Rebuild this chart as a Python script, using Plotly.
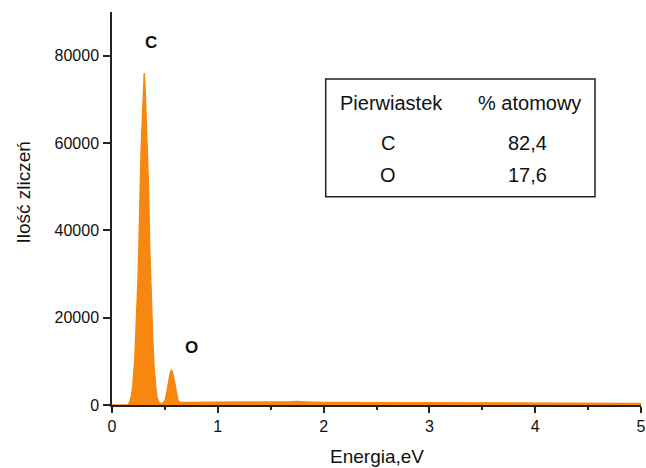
import plotly.graph_objects as go

# ---- data ----
energy_ev = [0.00, 0.10, 0.15, 0.165, 0.175, 0.185, 0.195, 0.205, 0.215, 0.225, 0.235, 0.245,
             0.255, 0.265, 0.275, 0.285, 0.295, 0.305, 0.315, 0.325, 0.335, 0.345, 0.355,
             0.365, 0.375, 0.385, 0.395, 0.405, 0.415, 0.425, 0.435, 0.445, 0.46,
             0.482, 0.492, 0.502, 0.512, 0.522, 0.532, 0.542, 0.552, 0.562, 0.572, 0.582,
             0.592, 0.602, 0.612, 0.622, 0.632, 0.645,
             0.70, 0.80, 0.90, 1.00, 1.10, 1.20, 1.30, 1.40, 1.50, 1.60, 1.70, 1.75, 1.80,
             1.90, 2.00, 2.10, 2.20, 2.30, 2.35, 2.40, 2.50, 2.60, 2.80, 3.00, 3.20, 3.50,
             3.80, 4.00, 4.30, 4.60, 5.00]
counts = [0, 0, 50, 500, 1200, 2200, 4000, 6500, 10000, 16000, 21000, 28000,
          37000, 50000, 58000, 64000, 71000, 76000, 71000, 64000, 58000, 50000, 37000,
          28000, 21000, 15000, 9500, 6000, 3500, 1800, 900, 450, 350,
          400, 700, 1200, 2100, 3400, 4900, 6400, 7500, 7900, 7500, 6400,
          4900, 3400, 2100, 1200, 750, 550,
          600, 650, 700, 700, 750, 700, 700, 680, 650, 700, 750, 800, 700,
          650, 600, 600, 600, 700, 700, 620, 580, 560, 530, 500, 480, 450,
          420, 400, 380, 360, 340]

x_ticks = [0, 1, 2, 3, 4, 5]
y_ticks = [0, 20000, 40000, 60000, 80000]

peak_labels = ["C", "O"]
peak_label_x = [0.366, 0.756]
peak_label_y = [83000, 13100]

table_header = ["Pierwiastek", "% atomowy"]
table_elements = ["C", "O"]
table_percent = ["82,4", "17,6"]

FONT = "Liberation Sans, Arial, sans-serif"
ORANGE = "#F7870F"
AXC = "#222222"

L, R, T, B = 112, 641, 12, 405          # plot area in page pixels
W, H = 646, 468                          # figure size


def px(xp):
    return (xp - L) / (R - L)


def py(yp):
    return (B - yp) / (B - T)


fig = go.Figure()
fig.add_trace(go.Scatter(
    x=energy_ev, y=counts, mode="lines", fill="tozeroy",
    line=dict(color=ORANGE, width=1.5), fillcolor=ORANGE, showlegend=False,
    hoverinfo="x+y"))

annotations = []
for lab, lx, ly in zip(peak_labels, peak_label_x, peak_label_y):
    annotations.append(dict(x=lx, y=ly, xref="x", yref="y", text="<b>%s</b>" % lab,
                            showarrow=False, font=dict(family=FONT, size=17, color="#111")))

# y axis title
annotations.append(dict(x=px(23), y=py(192.5), xref="paper", yref="paper",
                        text="Ilość zliczeń", textangle=-90, showarrow=False,
                        font=dict(family=FONT, size=19, color="#111"),
                        xanchor="center", yanchor="middle"))

# x axis title
annotations.append(dict(x=px(377), y=py(456.5), xref="paper", yref="paper",
                        text="Energia,eV", showarrow=False,
                        font=dict(family=FONT, size=19, color="#111"),
                        xanchor="center", yanchor="middle"))

# table
TF = 20
col_x = [px(391.5), px(529)]
row_y = [py(103.3), py(142.7), py(175)]
for cx, txt in zip(col_x, table_header):
    annotations.append(dict(x=cx, y=row_y[0], xref="paper", yref="paper", text=txt,
                            showarrow=False, font=dict(family=FONT, size=TF, color="#111"),
                            xanchor="center", yanchor="middle"))
for i, (el, pc) in enumerate(zip(table_elements, table_percent)):
    annotations.append(dict(x=px(388), y=row_y[i + 1], xref="paper", yref="paper", text=el,
                            showarrow=False, font=dict(family=FONT, size=TF, color="#111"),
                            xanchor="center", yanchor="middle"))
    annotations.append(dict(x=px(527), y=row_y[i + 1], xref="paper", yref="paper", text=pc,
                            showarrow=False, font=dict(family=FONT, size=TF, color="#111"),
                            xanchor="center", yanchor="middle"))

shapes = [dict(type="rect", xref="paper", yref="paper",
               x0=px(325.7), x1=px(595), y0=py(196.7), y1=py(79),
               line=dict(color=AXC, width=1.5), fillcolor="rgba(0,0,0,0)")]

fig.update_layout(
    width=W, height=H,
    margin=dict(l=L, r=W - R, t=T, b=H - B, pad=0, autoexpand=False),
    paper_bgcolor="white", plot_bgcolor="white",
    font=dict(family=FONT, color="#111"),
    annotations=annotations, shapes=shapes,
    xaxis=dict(range=[0, 5], tickvals=x_ticks, showgrid=False, zeroline=False,
               automargin=False,
               showline=True, linecolor=AXC, linewidth=1.5,
               ticks="outside", ticklen=6, tickwidth=1.5, tickcolor=AXC,
               tickfont=dict(family=FONT, size=16, color="#111"),
               minor=dict(dtick=0.5, ticks="outside", ticklen=3, tickwidth=1.5,
                          tickcolor=AXC, showgrid=False)),
    yaxis=dict(range=[0, 90000], tickvals=y_ticks, tickformat="d", showgrid=False,
               automargin=False,
               zeroline=False, showline=True, linecolor=AXC, linewidth=1.5,
               ticks="outside", ticklen=7, tickwidth=1.5, tickcolor=AXC,
               ticklabelstandoff=1,
               tickfont=dict(family=FONT, size=16, color="#111")),
)

fig.write_html(
    "out.html",
    config={"displayModeBar": False},
    post_script="document.body.style.margin='0';document.body.style.overflow='hidden';",
)
